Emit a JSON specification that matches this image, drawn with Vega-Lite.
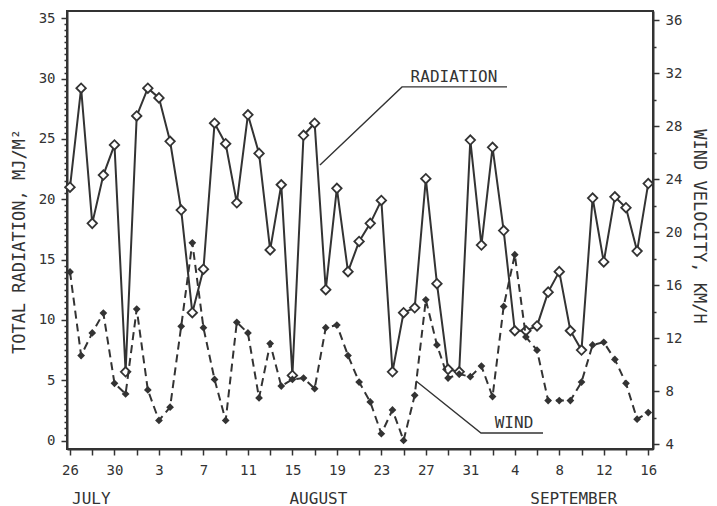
{
  "$schema": "https://vega.github.io/schema/vega-lite/v6.json",
  "width": 586,
  "height": 438,
  "autosize": {"type": "none"},
  "padding": {"left": 67, "top": 11, "right": 64, "bottom": 57},
  "background": "white",
  "config": {
    "view": {"stroke": "#333", "strokeWidth": 2},
    "axis": {
      "domainColor": "#333", "domainWidth": 2, "tickColor": "#333", "tickWidth": 1.5,
      "labelColor": "#333", "labelFont": "DejaVu Sans Mono", "labelFontSize": 14,
      "titleColor": "#333", "titleFont": "DejaVu Sans Mono", "titleFontSize": 17, "titleFontWeight": "normal",
      "grid": false
    }
  },
  "datasets": {
    "daily": [
      {"date": "1983-07-26", "radiation": 21.0, "wind": 17.0},
      {"date": "1983-07-27", "radiation": 29.2, "wind": 10.7},
      {"date": "1983-07-28", "radiation": 18.0, "wind": 12.4},
      {"date": "1983-07-29", "radiation": 22.0, "wind": 13.9},
      {"date": "1983-07-30", "radiation": 24.5, "wind": 8.6},
      {"date": "1983-07-31", "radiation": 5.7, "wind": 7.8},
      {"date": "1983-08-01", "radiation": 26.9, "wind": 14.2},
      {"date": "1983-08-02", "radiation": 29.2, "wind": 8.1},
      {"date": "1983-08-03", "radiation": 28.4, "wind": 5.8},
      {"date": "1983-08-04", "radiation": 24.8, "wind": 6.8},
      {"date": "1983-08-05", "radiation": 19.1, "wind": 12.9},
      {"date": "1983-08-06", "radiation": 10.6, "wind": 19.2},
      {"date": "1983-08-07", "radiation": 14.2, "wind": 12.8},
      {"date": "1983-08-08", "radiation": 26.3, "wind": 8.9},
      {"date": "1983-08-09", "radiation": 24.6, "wind": 5.8},
      {"date": "1983-08-10", "radiation": 19.7, "wind": 13.2},
      {"date": "1983-08-11", "radiation": 27.0, "wind": 12.4},
      {"date": "1983-08-12", "radiation": 23.8, "wind": 7.5},
      {"date": "1983-08-13", "radiation": 15.8, "wind": 11.6},
      {"date": "1983-08-14", "radiation": 21.2, "wind": 8.4},
      {"date": "1983-08-15", "radiation": 5.4, "wind": 8.9},
      {"date": "1983-08-16", "radiation": 25.3, "wind": 9.0},
      {"date": "1983-08-17", "radiation": 26.3, "wind": 8.2},
      {"date": "1983-08-18", "radiation": 12.5, "wind": 12.8},
      {"date": "1983-08-19", "radiation": 20.9, "wind": 13.0},
      {"date": "1983-08-20", "radiation": 14.0, "wind": 10.7},
      {"date": "1983-08-21", "radiation": 16.5, "wind": 8.7},
      {"date": "1983-08-22", "radiation": 18.0, "wind": 7.2},
      {"date": "1983-08-23", "radiation": 19.9, "wind": 4.8},
      {"date": "1983-08-24", "radiation": 5.7, "wind": 6.6},
      {"date": "1983-08-25", "radiation": 10.6, "wind": 4.3},
      {"date": "1983-08-26", "radiation": 11.0, "wind": 7.7},
      {"date": "1983-08-27", "radiation": 21.7, "wind": 14.9},
      {"date": "1983-08-28", "radiation": 13.0, "wind": 11.5},
      {"date": "1983-08-29", "radiation": 5.9, "wind": 9.0},
      {"date": "1983-08-30", "radiation": 5.7, "wind": 9.3},
      {"date": "1983-08-31", "radiation": 24.9, "wind": 9.1},
      {"date": "1983-09-01", "radiation": 16.2, "wind": 9.9},
      {"date": "1983-09-02", "radiation": 24.3, "wind": 7.6},
      {"date": "1983-09-03", "radiation": 17.4, "wind": 14.4},
      {"date": "1983-09-04", "radiation": 9.1, "wind": 18.3},
      {"date": "1983-09-05", "radiation": 9.1, "wind": 12.1},
      {"date": "1983-09-06", "radiation": 9.5, "wind": 11.1},
      {"date": "1983-09-07", "radiation": 12.3, "wind": 7.3},
      {"date": "1983-09-08", "radiation": 14.0, "wind": 7.3},
      {"date": "1983-09-09", "radiation": 9.1, "wind": 7.3},
      {"date": "1983-09-10", "radiation": 7.5, "wind": 8.7},
      {"date": "1983-09-11", "radiation": 20.1, "wind": 11.5},
      {"date": "1983-09-12", "radiation": 14.8, "wind": 11.7},
      {"date": "1983-09-13", "radiation": 20.2, "wind": 10.4},
      {"date": "1983-09-14", "radiation": 19.3, "wind": 8.6},
      {"date": "1983-09-15", "radiation": 15.7, "wind": 5.9},
      {"date": "1983-09-16", "radiation": 21.3, "wind": 6.4}
    ],
    "leaders": [
      {"label": "RADIATION", "seq": 0, "date": "1983-08-17T11:31:00Z", "radiation": 22.84},
      {"label": "RADIATION", "seq": 1, "date": "1983-08-24T20:38:00Z", "radiation": 29.31},
      {"label": "RADIATION", "seq": 2, "date": "1983-09-03T07:12:00Z", "radiation": 29.31},
      {"label": "WIND", "seq": 0, "date": "1983-08-26T02:53:00Z", "radiation": 4.93},
      {"label": "WIND", "seq": 1, "date": "1983-08-31T23:02:00Z", "radiation": 0.62},
      {"label": "WIND", "seq": 2, "date": "1983-09-06T12:58:00Z", "radiation": 0.62}
    ],
    "labels": [
      {"label": "RADIATION", "date": "1983-08-29T12:43:00Z", "radiation": 30.14},
      {"label": "WIND", "date": "1983-09-03T22:19:00Z", "radiation": 1.45}
    ]
  },
  "resolve": {
    "scale": {"y": "independent"},
    "axis": {"x": "independent", "y": "independent"}
  },
  "layer": [
    {
      "encoding": {
        "x": {
          "field": "date", "type": "temporal",
          "scale": {"type": "utc", "domain": [
            {"year": 1983, "month": 7, "date": 25, "hours": 17, "minutes": 31, "utc": true},
            {"year": 1983, "month": 9, "date": 16, "hours": 10, "minutes": 19, "utc": true}
          ]},
          "axis": {
            "orient": "bottom", "title": null, "tickSize": 6, "labelPadding": 8,
            "labelFlush": false, "labelOverlap": false,
            "values": [
              {"year": 1983, "month": 7, "date": 26, "utc": true},
              {"year": 1983, "month": 7, "date": 28, "utc": true},
              {"year": 1983, "month": 7, "date": 30, "utc": true},
              {"year": 1983, "month": 8, "date": 1, "utc": true},
              {"year": 1983, "month": 8, "date": 3, "utc": true},
              {"year": 1983, "month": 8, "date": 5, "utc": true},
              {"year": 1983, "month": 8, "date": 7, "utc": true},
              {"year": 1983, "month": 8, "date": 9, "utc": true},
              {"year": 1983, "month": 8, "date": 11, "utc": true},
              {"year": 1983, "month": 8, "date": 13, "utc": true},
              {"year": 1983, "month": 8, "date": 15, "utc": true},
              {"year": 1983, "month": 8, "date": 17, "utc": true},
              {"year": 1983, "month": 8, "date": 19, "utc": true},
              {"year": 1983, "month": 8, "date": 21, "utc": true},
              {"year": 1983, "month": 8, "date": 23, "utc": true},
              {"year": 1983, "month": 8, "date": 25, "utc": true},
              {"year": 1983, "month": 8, "date": 27, "utc": true},
              {"year": 1983, "month": 8, "date": 29, "utc": true},
              {"year": 1983, "month": 8, "date": 31, "utc": true},
              {"year": 1983, "month": 9, "date": 2, "utc": true},
              {"year": 1983, "month": 9, "date": 4, "utc": true},
              {"year": 1983, "month": 9, "date": 6, "utc": true},
              {"year": 1983, "month": 9, "date": 8, "utc": true},
              {"year": 1983, "month": 9, "date": 10, "utc": true},
              {"year": 1983, "month": 9, "date": 12, "utc": true},
              {"year": 1983, "month": 9, "date": 14, "utc": true},
              {"year": 1983, "month": 9, "date": 16, "utc": true}
            ],
            "labelExpr": "round((datum.value - utc(1983,6,26)) / 86400000) % 4 == 0 ? utcFormat(datum.value, '%-d') : ''"
          }
        },
        "y": {
          "field": "radiation", "type": "quantitative",
          "scale": {"domain": [-0.7, 35.6], "nice": false, "zero": false},
          "axis": {
            "orient": "left", "title": "TOTAL RADIATION, MJ/M²",
            "titlePadding": 10, "titleY": 230, "labelPadding": 6,
            "labelFlush": false, "labelOverlap": false,
            "values": [0,0.5,1,1.5,2,2.5,3,3.5,4,4.5,5,5.5,6,6.5,7,7.5,8,8.5,9,9.5,10,10.5,11,11.5,12,12.5,13,13.5,14,14.5,15,15.5,16,16.5,17,17.5,18,18.5,19,19.5,20,20.5,21,21.5,22,22.5,23,23.5,24,24.5,25,25.5,26,26.5,27,27.5,28,28.5,29,29.5,30,30.5,31,31.5,32,32.5,33,33.5,34,34.5,35],
            "labelExpr": "datum.value % 5 === 0 ? format(datum.value, 'd') : ''",
            "tickSize": {"condition": {"test": "datum.value % 5 === 0", "value": 6}, "value": 3}
          }
        }
      },
      "layer": [
        {
          "data": {"name": "leaders"},
          "mark": {"type": "line", "stroke": "#333", "strokeWidth": 1.4},
          "encoding": {"detail": {"field": "label"}, "order": {"field": "seq"}}
        },
        {
          "data": {"name": "labels"},
          "mark": {"type": "text", "font": "DejaVu Sans Mono", "fontSize": 16, "color": "#333", "align": "center", "baseline": "middle"},
          "encoding": {"text": {"field": "label"}}
        },
        {
          "data": {"name": "daily"},
          "mark": {"type": "line", "stroke": "#333", "strokeWidth": 2}
        },
        {
          "data": {"name": "daily"},
          "mark": {"type": "point", "shape": "diamond", "filled": true, "fill": "white", "stroke": "#333", "strokeWidth": 1.8, "size": 90, "opacity": 1}
        }
      ]
    },
    {
      "data": {"name": "daily"},
      "encoding": {
        "x": {
          "field": "date", "type": "temporal",
          "scale": {"type": "utc", "domain": [
            {"year": 1983, "month": 7, "date": 25, "hours": 17, "minutes": 31, "utc": true},
            {"year": 1983, "month": 9, "date": 16, "hours": 10, "minutes": 19, "utc": true}
          ]},
          "axis": {
            "orient": "bottom", "title": null, "domain": false, "ticks": false, "tickSize": 0,
            "labelPadding": 41, "labelFontSize": 16, "labelFlush": false, "labelOverlap": false,
            "values": [
              {"year": 1983, "month": 7, "date": 27, "hours": 21, "utc": true},
              {"year": 1983, "month": 8, "date": 17, "hours": 7, "utc": true},
              {"year": 1983, "month": 9, "date": 9, "hours": 6, "utc": true}
            ],
            "labelExpr": "upper(utcFormat(datum.value, '%B'))"
          }
        },
        "y": {
          "field": "wind", "type": "quantitative",
          "scale": {"domain": [3.65, 36.68], "nice": false, "zero": false},
          "axis": {
            "orient": "right", "title": "WIND VELOCITY, KM/H",
            "titlePadding": 8, "titleY": 215, "labelPadding": 6,
            "labelFlush": false, "labelOverlap": false,
            "values": [4,6,8,10,12,14,16,18,20,22,24,26,28,30,32,34,36],
            "labelExpr": "datum.value % 4 === 0 ? datum.label : ''",
            "tickSize": {"condition": {"test": "datum.value % 4 === 0", "value": 6}, "value": 3}
          }
        }
      },
      "layer": [
        {
          "mark": {"type": "line", "stroke": "#333", "strokeWidth": 2, "strokeDash": [8, 5]}
        },
        {
          "mark": {"type": "point", "shape": "diamond", "filled": true, "color": "#333", "size": 60, "opacity": 1}
        }
      ]
    }
  ]
}
